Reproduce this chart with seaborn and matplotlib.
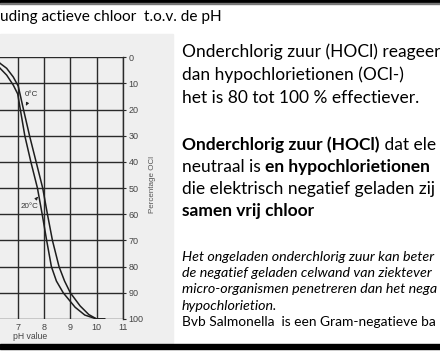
import matplotlib
matplotlib.use("Agg")
import matplotlib.pyplot as plt
from matplotlib.patches import Rectangle
import seaborn as sns
import pandas as pd

# curves: pH value -> percentage OCl-
ph_20c = [5.9, 6.1, 6.33, 6.58, 6.83, 7.0, 7.1, 7.27, 7.5, 7.75, 7.93, 8.1, 8.28, 8.47, 8.73, 9.18, 9.55, 10.0, 10.3]
pct_20c = [0, 1.2, 4.2, 6.8, 10.6, 14, 20, 30, 40, 50, 60, 70, 80, 85.5, 90, 95.5, 98.5, 100, 100]
ph_0c = [6.05, 6.2, 6.33, 6.58, 6.83, 7.02, 7.22, 7.45, 7.7, 7.95, 8.13, 8.32, 8.57, 8.78, 9.0, 9.37, 9.7, 10.0, 10.3]
pct_0c = [0, 0.8, 2.3, 4.2, 7.5, 11, 20, 30, 40, 50, 60, 70, 80, 85.5, 90, 95, 98.3, 100, 100]

ph_ticks = [7, 8, 9, 10, 11]
pct_ticks = [0, 10, 20, 30, 40, 50, 60, 70, 80, 90, 100]

# slide texts (cut where the screenshot cuts them)
title = "uding actieve chloor  t.o.v. de pH"
lines_top = [
    [("Onderchlorig zuur (HOCl) reageer", False)],
    [("dan hypochlorietionen (OCl-)", False)],
    [("het is 80 tot 100 % effectiever.", False)],
]
lines_mid = [
    [("Onderchlorig zuur (HOCl)", True), (" dat ele", False)],
    [("neutraal is ", False), ("en hypochlorietionen", True)],
    [("die elektrisch negatief geladen zij", False)],
    [("samen vrij chloor", True)],
]
lines_small = [
    ("Het ongeladen onderchlorig zuur kan beter", "italic", 10.3),
    ("de negatief geladen celwand van ziektever", "italic", 10.3),
    ("micro-organismen penetreren dan het nega", "italic", 10.3),
    ("hypochlorietion.", "italic", 10.3),
    ("Bvb Salmonella  is een Gram-negatieve ba", "normal", 9.9),
]

df = pd.concat([
    pd.DataFrame({"pH": ph_20c, "pct": pct_20c, "temp": "20C"}),
    pd.DataFrame({"pH": ph_0c, "pct": pct_0c, "temp": "0C"}),
])

W, H = 440, 352
fig = plt.figure(figsize=(W / 100, H / 100), dpi=100)
fig.patch.set_facecolor("white")

def fx(px):
    return px / W

def fy(py):
    return 1 - py / H

# slide decorations
fig.add_artist(Rectangle((0, fy(343)), fx(173), (343 - 34) / H, transform=fig.transFigure,
                         color="#efefef", zorder=-1))
fig.add_artist(Rectangle((0, fy(2.5)), 1, 2.5 / H, transform=fig.transFigure, color="black", zorder=5))
fig.add_artist(Rectangle((0, fy(4)), 1, 0.8 / H, transform=fig.transFigure, color="#777777", zorder=5))
fig.add_artist(Rectangle((0, fy(349)), 1, 5.5 / H, transform=fig.transFigure, color="black", zorder=5))

# chart
x0 = 6.327
ax = fig.add_axes([0, fy(319), fx(123), (319 - 57.3) / H])
ax.set_facecolor("none")
sns.lineplot(data=df, x="pH", y="pct", hue="temp", palette=["#1e1e1e", "#1e1e1e"],
             linewidth=1.1, legend=False, ax=ax, sort=False)
ax.set_xlim(x0, 11)
ax.set_ylim(100, 0)
ax.set_xticks(ph_ticks)
ax.set_yticks(pct_ticks)
ax.set_axisbelow(True)
ax.grid(True, color="#2a2a2a", linewidth=1.0)
for s in ["left", "top", "bottom"]:
    ax.spines[s].set_visible(False)
ax.spines["right"].set_color("#2a2a2a")
ax.spines["right"].set_linewidth(1.0)
ax.yaxis.tick_right()
ax.tick_params(axis="y", length=2.5, width=0.8, color="#2a2a2a", labelsize=6.5, labelcolor="#444444", pad=1.5)
ax.tick_params(axis="x", length=0, labelsize=6.5, labelcolor="#444444", pad=3)
for lab in ax.get_yticklabels() + ax.get_xticklabels():
    lab.set_family("Liberation Sans")
ax.set_xlabel("pH value", fontsize=6.2, color="#444444", family="Liberation Sans")
ax.xaxis.set_label_coords(30 / 123, -0.05)
ax.set_ylabel("")
fig.text(fx(152), fy(185), "Percentage OCl", rotation=90, fontsize=5.8, color="#555555",
         family="Liberation Sans", ha="center", va="center")

ax.annotate("0°C", xy=(7.31, 18.5), xytext=(7.54, 14.2), fontsize=5.8, color="#333333",
            family="Liberation Sans", ha="center", va="center",
            arrowprops=dict(arrowstyle="-|>", color="#222222", lw=0.7, mutation_scale=4,
                            shrinkA=3, shrinkB=0))
ax.annotate("20°C", xy=(7.77, 53.3), xytext=(7.43, 57.2), fontsize=5.8, color="#333333",
            family="Liberation Sans", ha="center", va="center",
            arrowprops=dict(arrowstyle="-|>", color="#222222", lw=0.7, mutation_scale=4,
                            shrinkA=3, shrinkB=0))

# slide texts
renderer = fig.canvas.get_renderer()

def runs(x_px, y_px, parts, size, style="normal"):
    x = x_px
    for txt, bold in parts:
        t = fig.text(fx(x), fy(y_px), txt, fontsize=size, family="Lato",
                     fontweight="bold" if bold else "normal", fontstyle=style,
                     va="center", ha="left", color="black")
        x += t.get_window_extent(renderer).width

fig.text(fx(0), fy(17), title, fontsize=11.1, family="Lato", va="center", ha="left")
for i, parts in enumerate(lines_top):
    runs(182, 52 + 23 * i, parts, 12.5)
for i, parts in enumerate(lines_mid):
    runs(182, 145 + 22 * i, parts, 12.5)
for i, (txt, style, size) in enumerate(lines_small):
    runs(182, 257 + 16.2 * i, [(txt, False)], size, style)

fig.savefig("out.png", dpi=100)
